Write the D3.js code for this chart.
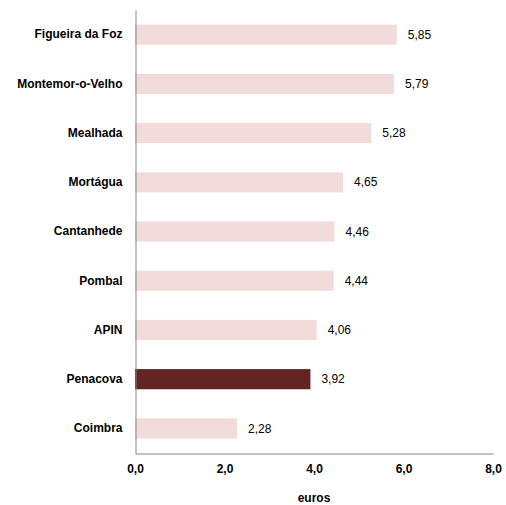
<!DOCTYPE html>
<html><head><meta charset="utf-8">
<script src="https://cdn.jsdelivr.net/npm/d3@7"></script>
<style>body{margin:0;background:#fff}svg{display:block}</style>
</head><body>
<script>
const categories = ["Figueira da Foz","Montemor-o-Velho","Mealhada","Mortágua","Cantanhede","Pombal","APIN","Penacova","Coimbra"];
const values = [5.85,5.79,5.28,4.65,4.46,4.44,4.06,3.92,2.28];
const highlight = "Penacova";
const xTicks = [0,2,4,6,8];
const xTitle = "euros";

const W=506,H=505, mLeft=135, mRight=493, mTop=10, mBottom=453;
const svg=d3.select("body").append("svg").attr("width",W).attr("height",H);
const x=d3.scaleLinear().domain([0,8]).range([mLeft,mRight]);
const y=d3.scaleBand().domain(categories).range([mTop,mBottom]).paddingInner(0.59).paddingOuter(0.295);
const fmt=v=>v.toFixed(2).replace(".",",");
const font="Liberation Sans, Arial, sans-serif";

svg.selectAll("rect.bar").data(categories).join("rect")
  .attr("x",x(0)).attr("y",d=>y(d)).attr("height",y.bandwidth())
  .attr("width",(d,i)=>x(values[i])-x(0))
  .attr("fill",d=>d===highlight?"#632523":"#F2DCDB");

svg.selectAll("text.val").data(categories).join("text")
  .attr("x",(d,i)=>x(values[i])+11).attr("y",d=>y(d)+y.bandwidth()/2)
  .attr("dy","0.35em").attr("font-family",font).attr("font-size",12).attr("fill","#000")
  .text((d,i)=>fmt(values[i]));

const yAxis=d3.axisLeft(y).tickSize(0).tickPadding(13);
const yg=svg.append("g").attr("transform",`translate(${mLeft+0.5},0)`).call(yAxis);
yg.select(".domain").attr("stroke","#868686");
yg.selectAll("text").attr("font-family",font).attr("font-size",12).attr("font-weight","bold").attr("fill","#000");

const xAxis=d3.axisBottom(x).tickValues(xTicks).tickSize(0).tickPadding(11)
  .tickFormat(d=>d.toFixed(1).replace(".",","));
const xg=svg.append("g").attr("transform",`translate(0,${mBottom+0.5})`).call(xAxis);
xg.select(".domain").attr("stroke","#868686");
xg.selectAll("text").attr("font-family",font).attr("font-size",12).attr("font-weight","bold").attr("fill","#000");

svg.append("text").attr("x",(mLeft+mRight)/2).attr("y",498).attr("dy","0.35em").attr("text-anchor","middle")
  .attr("font-family",font).attr("font-size",12).attr("font-weight","bold").text(xTitle);
</script>
</body></html>
